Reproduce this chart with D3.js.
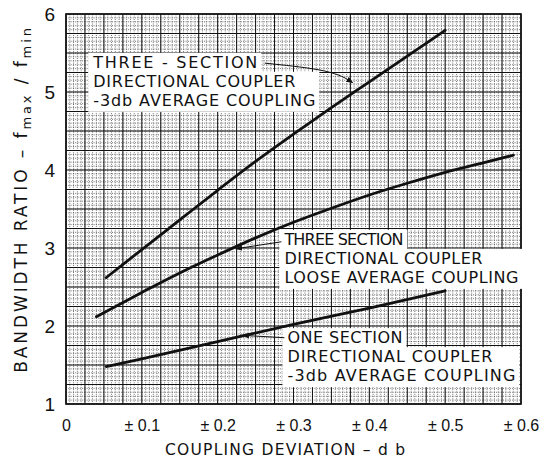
<!DOCTYPE html>
<html>
<head>
<meta charset="utf-8">
<script src="https://cdn.jsdelivr.net/npm/d3@7"></script>
<style>
body { margin: 0; background: #fff; }
text { font-family: "DejaVu Sans", sans-serif; fill: #111; }
</style>
</head>
<body>
<svg id="chart" width="539" height="462"></svg>
<script>
// Coupling deviation (db) and bandwidth ratio
var threeSec3dbX = [0.053, 0.1, 0.15, 0.2, 0.25, 0.3, 0.35, 0.4, 0.45, 0.5];
var threeSec3dbY = [2.62, 2.98, 3.36, 3.74, 4.11, 4.46, 4.8, 5.13, 5.46, 5.79];

var threeSecLooseX = [0.04, 0.1, 0.15, 0.2, 0.25, 0.3, 0.35, 0.4, 0.45, 0.5, 0.55, 0.59];
var threeSecLooseY = [2.12, 2.43, 2.68, 2.91, 3.13, 3.33, 3.51, 3.68, 3.83, 3.97, 4.09, 4.19];

var oneSecX = [0.053, 0.1, 0.2, 0.3, 0.4, 0.5];
var oneSecY = [1.48, 1.58, 1.80, 2.02, 2.23, 2.45];

// Tick values and labels
var xTicks = [0, 0.1, 0.2, 0.3, 0.4, 0.5, 0.6];
var xTickLabels = ["0", "\u00b1 0.1", "\u00b1 0.2", "\u00b1 0.3", "\u00b1 0.4", "\u00b1 0.5", "\u00b1 0.6"];
var yTicks = [1, 2, 3, 4, 5, 6];

// Curve annotations
var label3dbLines = ["THREE - SECTION", "DIRECTIONAL COUPLER", "-3db AVERAGE COUPLING"];
var labelLooseLines = ["THREE SECTION", "DIRECTIONAL COUPLER", "LOOSE AVERAGE COUPLING"];
var labelOneLines = ["ONE SECTION", "DIRECTIONAL COUPLER", "-3db AVERAGE COUPLING"];

var svg = d3.select("#chart");
var svgWidth = +svg.attr("width");
var svgHeight = +svg.attr("height");

// Define margins and graph dimensions
var margin = {top: 14, left: 66, bottom: 58, right: 18};
var width = svgWidth - margin.left - margin.right;
var height = svgHeight - margin.top - margin.bottom;

var xScale = d3.scaleLinear().domain([0, 0.6]).range([margin.left, margin.left + width]);
var yScale = d3.scaleLinear().domain([1, 6]).range([margin.top + height, margin.top]);

var grid = svg.append("g").attr("class", "grid");

// Fine dotted graph paper lines
var fineX = d3.range(0, 121).map(function(i) { return i * 0.005; });
var fineY = d3.range(0, 101).map(function(i) { return 1 + i * 0.05; });
grid.selectAll(".fx").data(fineX).enter().append("line")
    .attr("x1", function(d) { return xScale(d); })
    .attr("x2", function(d) { return xScale(d); })
    .attr("y1", yScale(1)).attr("y2", yScale(6))
    .attr("stroke", "#333").attr("stroke-width", 0.7)
    .attr("stroke-dasharray", "1,1.3");
grid.selectAll(".fy").data(fineY).enter().append("line")
    .attr("y1", function(d) { return yScale(d); })
    .attr("y2", function(d) { return yScale(d); })
    .attr("x1", xScale(0)).attr("x2", xScale(0.6))
    .attr("stroke", "#333").attr("stroke-width", 0.7)
    .attr("stroke-dasharray", "1,1.3");

// Medium solid lines
var medX = d3.range(0, 25).map(function(i) { return i * 0.025; });
var medY = d3.range(0, 21).map(function(i) { return 1 + i * 0.25; });
grid.selectAll(".mx").data(medX).enter().append("line")
    .attr("x1", function(d) { return xScale(d); })
    .attr("x2", function(d) { return xScale(d); })
    .attr("y1", yScale(1)).attr("y2", yScale(6))
    .attr("stroke", "#111").attr("stroke-width", 1);
grid.selectAll(".my").data(medY).enter().append("line")
    .attr("y1", function(d) { return yScale(d); })
    .attr("y2", function(d) { return yScale(d); })
    .attr("x1", xScale(0)).attr("x2", xScale(0.6))
    .attr("stroke", "#111").attr("stroke-width", 1);

// Plot border
svg.append("rect")
    .attr("x", xScale(0)).attr("y", yScale(6))
    .attr("width", xScale(0.6) - xScale(0))
    .attr("height", yScale(1) - yScale(6))
    .attr("fill", "none").attr("stroke", "#111").attr("stroke-width", 1.6);

// Curves
var curves = [
    {x: threeSec3dbX, y: threeSec3dbY},
    {x: threeSecLooseX, y: threeSecLooseY},
    {x: oneSecX, y: oneSecY}
];
var line = d3.line()
    .x(function(d) { return xScale(d[0]); })
    .y(function(d) { return yScale(d[1]); })
    .curve(d3.curveMonotoneX);

curves.forEach(function(c) {
    svg.append("path")
        .datum(d3.zip(c.x, c.y))
        .attr("d", line)
        .attr("fill", "none")
        .attr("stroke", "#111")
        .attr("stroke-width", 2.8)
        .attr("stroke-linecap", "round");
});

// Axes
var xAxis = d3.axisBottom(xScale).tickValues(xTicks).tickSize(0)
    .tickFormat(function(d, i) { return xTickLabels[i]; });
var xAxisG = svg.append("g")
    .attr("transform", "translate(0," + (yScale(1) + 13) + ")")
    .call(xAxis);
xAxisG.select(".domain").remove();
xAxisG.selectAll("text")
    .style("font-family", "'Liberation Sans', sans-serif")
    .style("font-size", "16px")
    .attr("fill", "#111");

var yAxis = d3.axisLeft(yScale).tickValues(yTicks).tickSize(0).tickFormat(d3.format("d"));
var yAxisG = svg.append("g")
    .attr("transform", "translate(" + (xScale(0) - 8) + ",0)")
    .call(yAxis);
yAxisG.select(".domain").remove();
yAxisG.selectAll("text")
    .style("font-family", "'Liberation Sans', sans-serif")
    .style("font-size", "19px")
    .attr("fill", "#111");

// Axis titles
svg.append("text")
    .attr("x", 285).attr("y", 455)
    .attr("text-anchor", "middle")
    .attr("textLength", 240)
    .style("font-size", "15.5px")
    .text("COUPLING DEVIATION \u2013 d b");

var yTitle = svg.append("text")
    .attr("transform", "translate(27,199) rotate(-90)")
    .attr("text-anchor", "middle")
    .style("font-size", "17px")
    .style("letter-spacing", "2.9px");
yTitle.append("tspan").text("BANDWIDTH RATIO \u2013 f");
yTitle.append("tspan").attr("dy", 4).style("font-size", "13px").text("max");
yTitle.append("tspan").attr("dy", -4).text(" / f");
yTitle.append("tspan").attr("dy", 4).style("font-size", "13px").text("min");

// Arrow head marker for the leader lines
svg.append("defs").append("marker")
    .attr("id", "arrow")
    .attr("viewBox", "0 0 10 10")
    .attr("refX", 9).attr("refY", 5)
    .attr("markerWidth", 7).attr("markerHeight", 7)
    .attr("orient", "auto")
    .append("path")
    .attr("d", "M0,1 L10,5 L0,9 Z")
    .attr("fill", "#111");

// Annotation blocks, placed in data units
var annotations = [
    {lines: label3dbLines, x: 0.036, y: 5.31, widths: [164, 202, 222]},
    {lines: labelLooseLines, x: 0.288, y: 3.04, widths: [119, 198, 234]},
    {lines: labelOneLines, x: 0.292, y: 1.78, widths: [115, 205, 228]}
];
var rowGap = 19;

annotations.forEach(function(a) {
    var g = svg.append("g");
    var x0 = xScale(a.x);
    var y0 = yScale(a.y);
    var wideRest = d3.max(a.widths.slice(1));
    // white background rows
    g.append("rect")
        .attr("x", x0 - 5).attr("y", y0 - 15)
        .attr("width", a.widths[0] + 9).attr("height", rowGap + 1)
        .attr("fill", "#fff");
    g.append("rect")
        .attr("x", x0 - 5).attr("y", y0 - 15 + rowGap)
        .attr("width", wideRest + 9).attr("height", rowGap * 2 + 2)
        .attr("fill", "#fff");
    a.lines.forEach(function(t, i) {
        g.append("text")
            .attr("x", x0)
            .attr("y", y0 + i * rowGap)
            .attr("textLength", a.widths[i])
            .style("font-size", "16px")
            .text(t);
    });
});

// Leader lines from each label to its curve
var leaders = [
    [[0.262, 5.37], [0.352, 5.28], [0.378, 5.12]],
    [[0.284, 3.08], [0.224, 2.99]],
    [[0.288, 1.85], [0.233, 1.88]]
];
var leaderLine = d3.line()
    .x(function(d) { return xScale(d[0]); })
    .y(function(d) { return yScale(d[1]); })
    .curve(d3.curveBasis);
leaders.forEach(function(l) {
    svg.append("path")
        .datum(l)
        .attr("d", leaderLine)
        .attr("fill", "none")
        .attr("stroke", "#111")
        .attr("stroke-width", 1)
        .attr("marker-end", "url(#arrow)");
});
</script>
</body>
</html>
